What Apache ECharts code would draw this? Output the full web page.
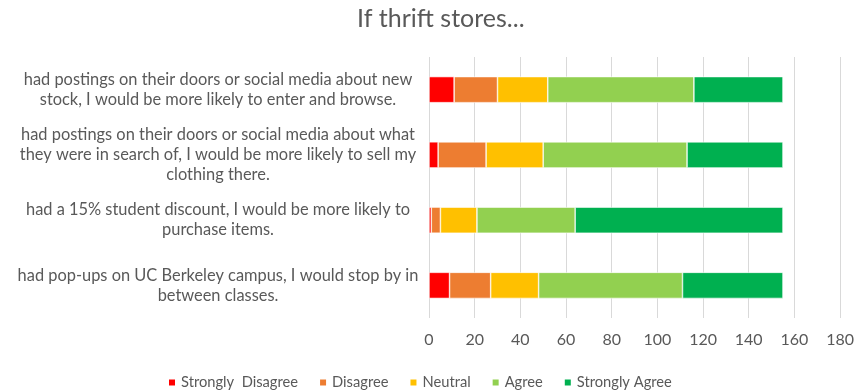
<!DOCTYPE html>
<html>
<head>
<meta charset="utf-8">
<script src="https://cdn.jsdelivr.net/npm/echarts@6/dist/echarts.min.js"></script>
<style>html,body{margin:0;padding:0;background:#fff;}#c{width:857px;height:391px;}</style>
</head>
<body>
<div id="c"></div>
<script>
const titleText = "If thrift stores...";
const categories = [
  "had postings on their doors or social media about new\nstock, I would be more likely to enter and browse.",
  "had postings on their doors or social media about what\nthey were in search of, I would be more likely to sell my\nclothing there.",
  "had a 15% student discount, I would be more likely to\npurchase items.",
  "had pop-ups on UC Berkeley campus, I would stop by in\nbetween classes."
];
const seriesNames = ["Strongly  Disagree", "Disagree", "Neutral", "Agree", "Strongly Agree"];
const stronglyDisagree = [11, 4, 1, 9];
const disagree = [19, 21, 4, 18];
const neutral = [22, 25, 16, 21];
const agree = [64, 63, 43, 63];
const stronglyAgree = [39, 42, 91, 44];
const xTicks = { min: 0, max: 180, interval: 20 };
const colors = ["#FF0000", "#ED7D31", "#FFC000", "#92D050", "#00B050"];

const values = [stronglyDisagree, disagree, neutral, agree, stronglyAgree];
const font = "Lato, 'Open Sans', sans-serif";
const chart = echarts.init(document.getElementById('c'), null, { renderer: 'canvas' });
chart.setOption({
  animation: false,
  color: colors,
  textStyle: { fontFamily: font },
  title: {
    text: titleText, left: 352, top: 1,
    textStyle: { fontFamily: font, fontSize: 25, fontWeight: 'normal', color: '#595959' }
  },
  legend: {
    top: 370, left: 162, itemWidth: 8, itemHeight: 8, itemGap: 20,
    icon: 'rect',
    textStyle: { fontFamily: font, fontSize: 14.7, color: '#595959' },
    data: seriesNames
  },
  grid: { left: 429, right: 14, top: 57, bottom: 73, containLabel: false },
  xAxis: {
    type: 'value', min: xTicks.min, max: xTicks.max, interval: xTicks.interval,
    axisLine: { show: false }, axisTick: { show: false },
    splitLine: { lineStyle: { color: '#D9D9D9', width: 1 } },
    axisLabel: { fontFamily: font, fontSize: 16, color: '#595959', margin: 14 }
  },
  yAxis: {
    type: 'category', data: categories, inverse: true,
    axisLine: { show: false }, axisTick: { show: false },
    axisLabel: { fontFamily: font, fontSize: 16.4, color: '#595959', align: 'center', margin: 211, lineHeight: 20 }
  },
  series: seriesNames.map((n, i) => ({
    name: n, type: 'bar', stack: 'total', barWidth: '40%',
    data: values[i],
    itemStyle: { borderColor: '#ffffff', borderWidth: 0.6 }
  }))
});
</script>
</body>
</html>
